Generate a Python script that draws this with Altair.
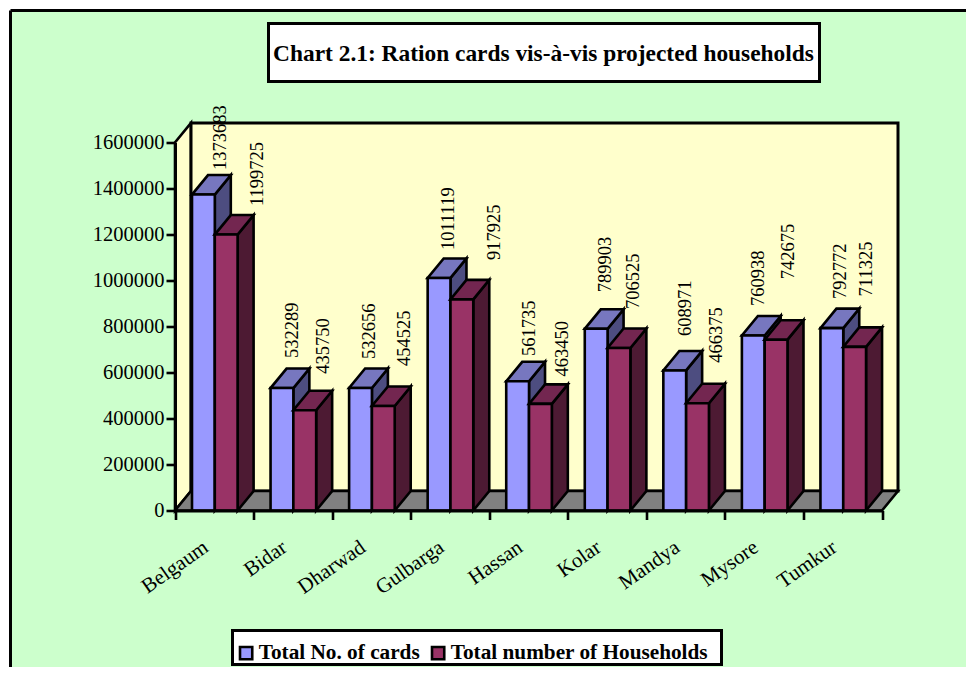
import altair as alt
import pandas as pd

# ---- data ----
categories = ["Belgaum", "Bidar", "Dharwad", "Gulbarga", "Hassan", "Kolar", "Mandya", "Mysore", "Tumkur"]
cards = [1373683, 532289, 532656, 1011119, 561735, 789903, 608971, 760938, 792772]
households = [1199725, 435750, 454525, 917925, 463450, 706525, 466375, 742675, 711325]
series_names = ["Total No. of cards", "Total number of Households"]
y_ticks = [0, 200000, 400000, 600000, 800000, 1000000, 1200000, 1400000, 1600000]
title_text = "Chart 2.1: Ration cards vis-à-vis projected households"

# ---- layout ----
PAD = 2.5
W, H = 958 - PAD, 659 - PAD
X_RANGE = [164.5, 871.5]
Y_RANGE = [500, 132]
YMAX = 1600000
PX_X = (X_RANGE[1] - X_RANGE[0]) / len(categories)
PX_Y = (Y_RANGE[0] - Y_RANGE[1]) / YMAX
DX = 16 / PX_X            # depth of the 3-D box, category units
DY = 19.5 / PX_Y          # depth of the 3-D box, value units
BAR_START = 17 / PX_X
BAR_W = 22.8 / PX_X
# individual nudges of the rotated value labels (px)
nudge_x = {0: [1, -6, -7.5, -7, -5, -7, -6, -11, -8], 1: [15, 2, 5, 16, 6, -2, 2, -4, -5]}
nudge_y = {0: [5, 10.6, 9.5, 8.4, 5.8, 17, 15, 10, 9.7], 1: [9, 17, 20.5, 20, 8, 19.5, 21, 41, 31]}

BLUE, BLUE_TOP, BLUE_SIDE = "#9999FF", "#7777BF", "#4D4D80"
RED, RED_TOP, RED_SIDE = "#993366", "#732650", "#4D1A33"
SERIF = "Liberation Serif"
SW = 2.6

x_scale = alt.Scale(domain=[0, len(categories)], range=X_RANGE, nice=False, zero=False)
y_scale = alt.Scale(domain=[0, YMAX], range=Y_RANGE, nice=False, zero=False)
x_axis = alt.Axis(values=list(range(len(categories) + 1)), labels=False, title=None, grid=False,
                  offset=Y_RANGE[0] - H, tickSize=9, tickWidth=SW, tickColor="black",
                  domainWidth=3, domainColor="black", zindex=1)
y_axis = alt.Axis(values=y_ticks, title=None, grid=False, offset=-X_RANGE[0], tickSize=9, tickWidth=SW,
                  tickColor="black", domainWidth=3, domainColor="black", labelFont=SERIF,
                  labelFontSize=20.5, labelColor="black", labelPadding=2, labelOverlap=False,
                  format="d", zindex=1)
X = alt.X("x:Q", scale=x_scale, axis=x_axis)
Y = alt.Y("y:Q", scale=y_scale, axis=y_axis)


def faces(kind):
    rows = []
    for s, vals in enumerate((cards, households)):
        for i, v in enumerate(vals):
            x0 = i + BAR_START + s * BAR_W
            x1 = x0 + BAR_W
            if kind == "side":
                pts = [(x1, 0, v), (x1 + DX, DY, v + DY)]
            else:
                pts = [(x0, v, v), (x0 + DX, v, v + DY), (x1, v, v + DY), (x1 + DX, v + DY, v + DY)]
            for px, a, b in pts:
                rows.append(dict(s=s, i=i, x=px, y=a, y2=b, key=f"{s}-{i}"))
    return pd.DataFrame(rows)


def area(df, fill):
    return alt.Chart(df).mark_area(fill=fill, stroke="black", strokeWidth=SW, opacity=1,
                                   orient="vertical").encode(
        x=X, y=Y, y2="y2:Q", detail="key:N")


sides, tops = faces("side"), faces("top")


def front(s, vals):
    x0 = [i + BAR_START + s * BAR_W for i in range(len(vals))]
    return pd.DataFrame(dict(x=x0, x2=[a + BAR_W for a in x0], y=vals, y2=[0] * len(vals),
                             series=[series_names[s]] * len(vals)))


color = alt.Color("series:N", scale=alt.Scale(domain=series_names, range=[BLUE, RED]),
                  legend=alt.Legend(orient="none", legendX=225, legendY=632, direction="horizontal",
                                    title=None, symbolType="square", symbolSize=150,
                                    symbolStrokeColor="black", symbolStrokeWidth=SW,
                                    symbolOpacity=1, labelFont=SERIF, labelFontSize=21.25,
                                    labelFontWeight="bold", labelColor="black", labelLimit=400,
                                    columnPadding=6, labelOffset=2))


def bars(s, vals):
    return alt.Chart(front(s, vals)).mark_bar(stroke="black", strokeWidth=SW, opacity=1).encode(
        x=X, x2="x2:Q", y=Y, y2="y2:Q", color=color)


back = alt.Chart(pd.DataFrame(dict(x=[DX], x2=[len(categories) + DX], y=[DY], y2=[YMAX + DY]))).mark_rect(
    fill="#FFFFCC", stroke="black", strokeWidth=3).encode(x=X, x2="x2:Q", y=Y, y2="y2:Q")
left_wall = area(pd.DataFrame(dict(x=[0, DX], y=[0, DY], y2=[YMAX, YMAX + DY], key=["w", "w"])), "#FFFFCC")
floor = area(pd.DataFrame(dict(x=[0, DX, len(categories), len(categories) + DX],
                               y=[0, 0, 0, DY], y2=[0, DY, DY, DY], key=["f"] * 4)), "#808080")

# value labels
lab_rows = []
for s, vals in enumerate((cards, households)):
    for i, v in enumerate(vals):
        lab_rows.append(dict(x=i + BAR_START + (s + 0.5) * BAR_W + DX + nudge_x[s][i] / PX_X,
                             y=v + DY + nudge_y[s][i] / PX_Y, t=str(v)))
value_labels = alt.Chart(pd.DataFrame(lab_rows)).mark_text(
    angle=270, align="left", baseline="middle", font=SERIF, fontSize=18.5, color="black").encode(
    x=X, y=Y, text="t:N")

cat_df = pd.DataFrame(dict(x=[i + 0.5 - 8 / PX_X for i in range(len(categories))], t=categories))
cat_labels = alt.Chart(cat_df).mark_text(
    angle=325, align="right", baseline="middle", font=SERIF, fontSize=21, color="black").encode(
    x=X, y=alt.value(535), text="t:N")

title_box = alt.Chart(pd.DataFrame(dict(a=[1]))).mark_rect(fill="white", stroke="black", strokeWidth=3).encode(
    x=alt.value(258), x2=alt.value(809), y=alt.value(13), y2=alt.value(71))
title_mark = alt.Chart(pd.DataFrame(dict(t=[title_text]))).mark_text(
    font=SERIF, fontSize=23.4, fontWeight="bold", color="black", align="center", baseline="middle").encode(
    x=alt.value(533), y=alt.value(43), text="t:N")
legend_box = alt.Chart(pd.DataFrame(dict(a=[1]))).mark_rect(fill="white", stroke="black", strokeWidth=3).encode(
    x=alt.value(222), x2=alt.value(711), y=alt.value(620), y2=alt.value(654))
frame_left = alt.Chart(pd.DataFrame(dict(a=[1]))).mark_rule(color="black", strokeWidth=3).encode(
    x=alt.value(0), y=alt.value(0), y2=alt.value(H))
frame_top = alt.Chart(pd.DataFrame(dict(a=[1]))).mark_rule(color="black", strokeWidth=3).encode(
    x=alt.value(0), x2=alt.value(W), y=alt.value(0))

chart = alt.layer(
    left_wall, back, floor,
    area(sides[sides.s == 0], BLUE_SIDE), area(tops[tops.s == 0], BLUE_TOP), bars(0, cards),
    area(sides[sides.s == 1], RED_SIDE), area(tops[tops.s == 1], RED_TOP), bars(1, households),
    value_labels, cat_labels, title_box, title_mark, legend_box, frame_left, frame_top,
).properties(
    width=W, height=H, padding={"left": PAD, "top": PAD, "right": 0, "bottom": 0},
    autosize=alt.AutoSizeParams(type="none"), background="white",
).configure_view(fill="#CCFFCC", stroke=None)

chart.save("out.html", embed_options={"renderer": "svg", "actions": False})
